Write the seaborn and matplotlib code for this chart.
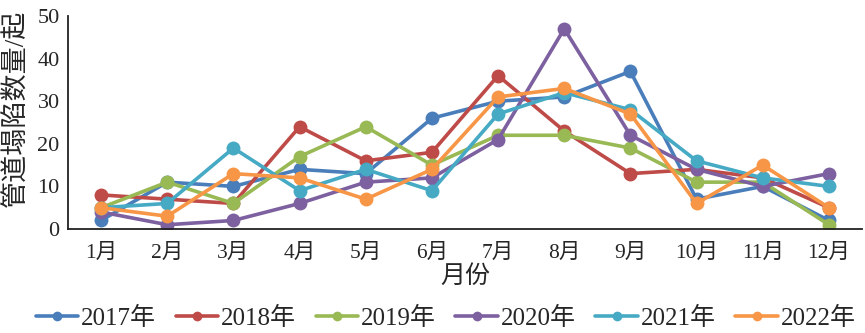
import matplotlib
matplotlib.use("Agg")
import matplotlib.pyplot as plt
import seaborn as sns
import pandas as pd

months = ["1月", "2月", "3月", "4月", "5月", "6月", "7月", "8月", "9月", "10月", "11月", "12月"]
years = ["2017年", "2018年", "2019年", "2020年", "2021年", "2022年"]

y2017 = [2, 11, 10, 14, 13, 26, 30, 31, 37, 7, 10, 2]
y2018 = [8, 7, 6, 24, 16, 18, 36, 23, 13, 14, 12, 5]
y2019 = [5, 11, 6, 17, 24, 15, 22, 22, 19, 11, 11, 1]
y2020 = [4, 1, 2, 6, 11, 12, 21, 47, 22, 14, 10, 13]
y2021 = [5, 6, 19, 9, 14, 9, 27, 32, 28, 16, 12, 10]
y2022 = [5, 3, 13, 12, 7, 14, 31, 33, 27, 6, 15, 5]

colors = ["#4a7ebb", "#be4b48", "#98b954", "#7d60a0", "#46aac5", "#f79646"]

series = [y2017, y2018, y2019, y2020, y2021, y2022]
rows = []
for yr, vals in zip(years, series):
    for m, v in zip(months, vals):
        rows.append({"月份": m, "数量": v, "年份": yr})
df = pd.DataFrame(rows)

sns.set_style("white")
plt.rcParams["font.family"] = ["Liberation Serif", "Noto Sans CJK SC"]

fig = plt.figure(figsize=(8.65, 3.33), dpi=100)
ax = fig.add_axes([68 / 865, 1 - 229 / 333, (862 - 68) / 865, (229 - 16) / 333])

sns.lineplot(data=df, x="月份", y="数量", hue="年份", palette=colors,
             marker="o", markersize=10, markeredgewidth=0, linewidth=2.6,
             sort=False, ax=ax, legend=True)

ax.set_xlim(-0.5, 11.5)
ax.set_ylim(0, 50)
ax.set_yticks([0, 10, 20, 30, 40, 50])
ax.tick_params(axis="y", labelsize=16, direction="out", length=4, width=1, color="black", pad=2)
ax.tick_params(axis="x", labelsize=15.5, length=0, pad=11)
for s in ["top", "right"]:
    ax.spines[s].set_visible(False)
for s in ["left", "bottom"]:
    ax.spines[s].set_color("#222222")
    ax.spines[s].set_linewidth(1.3)

ax.set_xlabel("月份", fontsize=18, labelpad=1)
ax.set_ylabel("管道塌陷数量/起", fontsize=19.5)
# centre the y title slightly above the axes midpoint
ax.yaxis.set_label_coords(-38 / 794, (229 - 108) / 213)

handles, labels = ax.get_legend_handles_labels()
ax.get_legend().remove()
leg = fig.legend(handles, labels, loc="center", bbox_to_anchor=(0.515, 1 - 318 / 333),
                 ncol=6, frameon=False, fontsize=18, handlelength=1.7,
                 handletextpad=0.1, columnspacing=0.8, borderaxespad=0)
for h in leg.legend_handles:
    h.set_markersize(7)

fig.savefig("out.png", dpi=100)
